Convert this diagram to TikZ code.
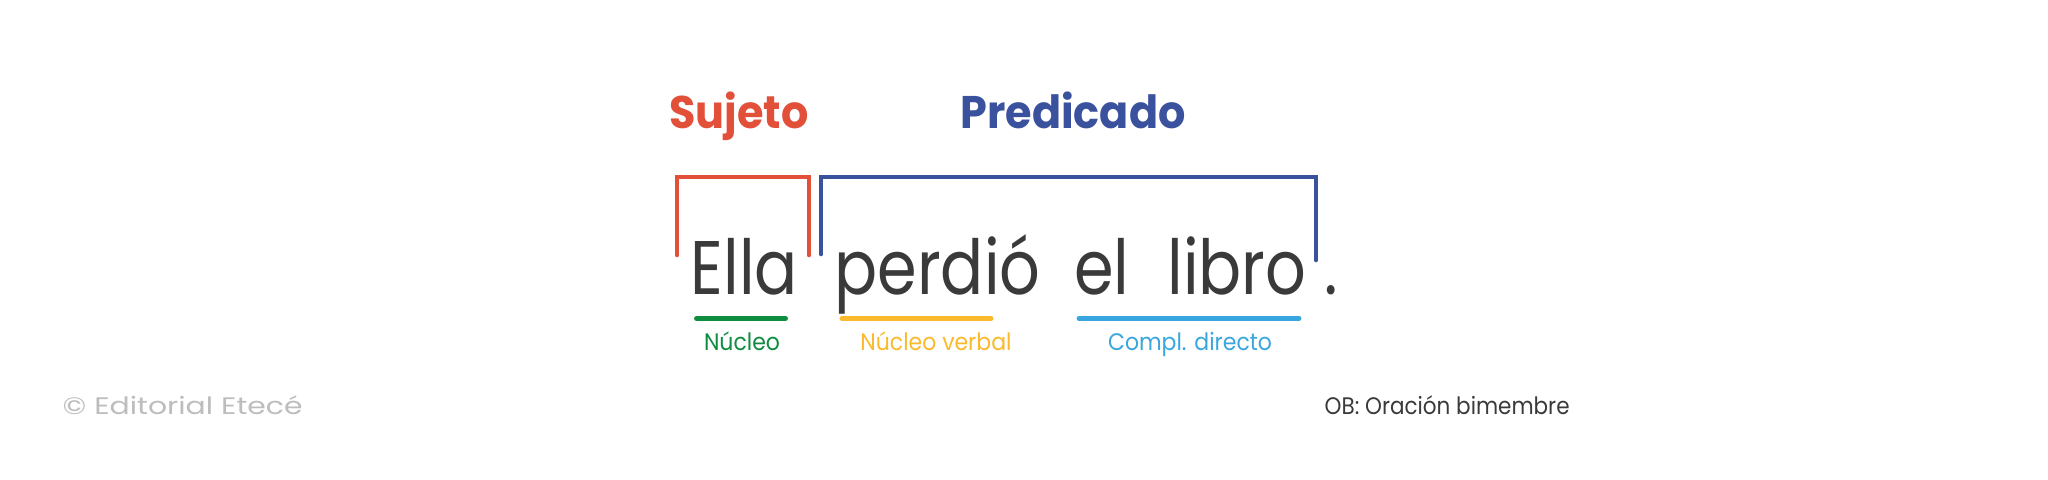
\documentclass[tikz,border=0pt]{standalone}
\usepackage{fontspec}
\setmainfont{Poppins}
\newfontfamily\wordfont[FakeStretch=0.84]{Poppins}
\newfontfamily\headfont[FakeStretch=0.94]{Poppins}
\newfontfamily\labelfont[FakeStretch=0.92]{Poppins}
\newfontfamily\notefont[FakeStretch=0.9]{Poppins}
\newfontfamily\creditfont[FakeStretch=1.25]{Poppins}
\usetikzlibrary{positioning,calc}

\definecolor{sujred}{HTML}{E2503A}
\definecolor{predblue}{HTML}{3A519E}
\definecolor{nucgreen}{HTML}{0E8C3F}
\definecolor{verbyellow}{HTML}{FBBA2C}
\definecolor{cdblue}{HTML}{3AA6DF}
\definecolor{inkgray}{HTML}{3A3A3A}
\definecolor{softgray}{HTML}{BDBDBD}

\begin{document}
\begin{tikzpicture}[
    word/.style={anchor=base, inner sep=0pt, text=inkgray, font=\wordfont\fontsize{21.6}{24}\selectfont},
    head/.style={anchor=base, inner sep=0pt, font=\headfont\bfseries\fontsize{13}{15}\selectfont},
    tag/.style={anchor=base, inner sep=0pt, font=\labelfont\fontsize{6.8}{8}\selectfont},
    note/.style={anchor=base west, inner sep=0pt, font=\notefont\fontsize{6.8}{8}\selectfont},
    bracket/.style={line width=1.33pt, line cap=round, miter limit=10},
    uline/.style={line width=1.4pt, line cap=round}
]
\useasboundingbox[fill=white] (0,0) rectangle (20.48,4.8);

% sentence
\node[word] (ella) at (7.445,1.85) {Ella};
\node[word] (perdio) at (9.375,1.85) {perdió};
\node[word] (el) at (11.02,1.85) {el};
\node[word] (libro) at (12.37,1.85) {libro};
\node[word] (dot) at (13.31,1.85) {.};

% headings
\node[head, text=sujred] (sujeto) at (7.39,3.51) {Sujeto};
\node[head, text=predblue] (predicado) at (10.73,3.51) {Predicado};

% brackets
\coordinate (sujL) at (6.77,2.25);
\coordinate (sujR) at (8.09,2.25);
\coordinate (predL) at (8.21,2.26);
\coordinate (predR) at (13.16,2.20);
\draw[bracket, sujred] (sujL) -- ++(0,0.78) -| (sujR);
\draw[bracket, predblue] (predL) |- ($(predR)+(0,0.83)$) -- (predR);

% underlines
\coordinate (nucA) at (6.965,1.615);
\coordinate (nucB) at (7.855,1.615);
\coordinate (verbA) at (8.42,1.615);
\coordinate (verbB) at (9.91,1.615);
\coordinate (cdA) at (10.79,1.615);
\coordinate (cdB) at (12.99,1.615);
\draw[uline, nucgreen] (nucA) -- (nucB);
\draw[uline, verbyellow] (verbA) -- (verbB);
\draw[uline, cdblue] (cdA) -- (cdB);

\node[tag, text=nucgreen] (nucleo) at (7.42,1.29) {Núcleo};
\node[tag, text=verbyellow] (nverbal) at (9.36,1.29) {Núcleo verbal};
\node[tag, text=cdblue] (cdirecto) at (11.90,1.29) {Compl. directo};

% footer
\node[note, text=softgray, font=\creditfont\fontsize{6.8}{8}\selectfont] (credit) at (0.62,0.65) {© Editorial Etecé};
\node[note, text=inkgray] (ob) at (13.24,0.65) {OB: Oración bimembre};
\end{tikzpicture}
\end{document}
